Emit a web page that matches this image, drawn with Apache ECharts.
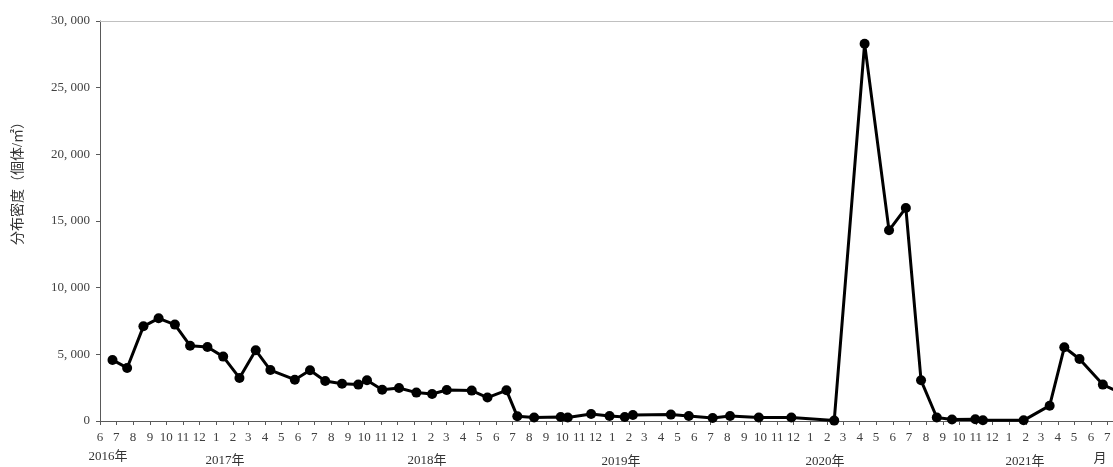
<!DOCTYPE html>
<html>
<head>
<meta charset="utf-8">
<script src="https://cdn.jsdelivr.net/npm/echarts@6/dist/echarts.min.js"></script>
<style>
  html, body { margin: 0; padding: 0; background: #fff; }
  #chart { width: 1113px; height: 467px; }
</style>
</head>
<body>
<div id="chart"></div>
<script>
// Survey dates and population density (individuals per m²)
const surveyDates = [
  '2016-06-24', '2016-07-21', '2016-08-20', '2016-09-17', '2016-10-17', '2016-11-14',
  '2016-12-16', '2017-01-14', '2017-02-13', '2017-03-15', '2017-04-11', '2017-05-26',
  '2017-06-23', '2017-07-21', '2017-08-21', '2017-09-20', '2017-10-06', '2017-11-03',
  '2017-12-04', '2018-01-05', '2018-02-03', '2018-03-02', '2018-04-17', '2018-05-16',
  '2018-06-20', '2018-07-10', '2018-08-10', '2018-09-28', '2018-10-11', '2018-11-23',
  '2018-12-27', '2019-01-24', '2019-02-08', '2019-04-19', '2019-05-22', '2019-07-05',
  '2019-08-06', '2019-09-28', '2019-11-27', '2020-02-14', '2020-04-10', '2020-05-25',
  '2020-06-25', '2020-07-23', '2020-08-21', '2020-09-18', '2020-10-31', '2020-11-14',
  '2021-01-28', '2021-03-17', '2021-04-13', '2021-05-11', '2021-06-23', '2021-07-21'
];
const density = [
  4580, 3980, 7100, 7700, 7230, 5650,
  5550, 4830, 3230, 5300, 3820, 3100,
  3800, 3000, 2800, 2730, 3050, 2350,
  2480, 2130, 2030, 2330, 2280, 1760,
  2300, 350, 260, 300, 260, 520,
  380, 300, 450, 480, 380, 230,
  380, 260, 260, 30, 28300, 14300,
  15980, 3050, 260, 110, 130, 50,
  50, 1150, 5530, 4650, 2730, 2200
];

const yTicks = { min: 0, max: 30000, step: 5000 };
const axisRange = { start: '2016-06-01', end: '2021-08-01' };
const yearLabels = ['2016年', '2017年', '2018年', '2019年', '2020年', '2021年'];
const monthUnit = '月';
const yTitle = '分布密度（個体/㎡）';

const FONT = "'Liberation Serif', 'Noto Sans CJK JP', serif";
const TEXT = '#404040';
const AXIS = '#595959';

const chart = echarts.init(document.getElementById('chart'), null, { renderer: 'canvas' });

const yearX = [108, 225, 427, 621, 825, 1025];
const yearY = [457, 461, 461, 462, 462, 462];

const graphics = yearLabels.map((t, i) => ({
  type: 'text',
  x: yearX[i], y: yearY[i],
  style: { text: t, font: '13px ' + FONT, fill: '#333', align: 'center', verticalAlign: 'middle' },
  silent: true
}));
graphics.push({
  type: 'text', x: 1100, y: 459,
  style: { text: monthUnit, font: '13px ' + FONT, fill: '#333', align: 'center', verticalAlign: 'middle' },
  silent: true
});
graphics.push({
  type: 'text', x: 18, y: 180, rotation: Math.PI / 2,
  style: { text: yTitle, font: '14px ' + FONT, fill: '#333', align: 'center', verticalAlign: 'middle' },
  silent: true
});

chart.setOption({
  animation: false,
  backgroundColor: '#fff',
  grid: { left: 100, top: 21, bottom: 46, right: -11, containLabel: false, outerBoundsMode: 'none' },
  xAxis: {
    type: 'time',
    min: axisRange.start,
    max: axisRange.end,
    minInterval: 28 * 86400000,
    maxInterval: 31 * 86400000,
    splitLine: { show: false },
    axisLine: { show: true, lineStyle: { color: AXIS, width: 1 } },
    axisTick: { show: true, length: 4, lineStyle: { color: AXIS } },
    minorTick: { show: false },
    axisLabel: {
      show: true,
      margin: 10,
      fontFamily: FONT,
      fontSize: 13,
      color: TEXT,
      hideOverlap: false,
      showMinLabel: true,
      formatter: function (v) { return String(new Date(v).getMonth() + 1); }
    }
  },
  yAxis: {
    type: 'value',
    min: yTicks.min,
    max: yTicks.max,
    interval: yTicks.step,
    splitLine: { show: false },
    axisLine: { show: true, lineStyle: { color: AXIS, width: 1 } },
    axisTick: { show: true, length: 4, lineStyle: { color: AXIS } },
    axisLabel: {
      margin: 10,
      fontFamily: FONT,
      fontSize: 13,
      color: TEXT,
      formatter: function (v) { return v.toLocaleString('en-US').replace(/,/g, ', '); }
    }
  },
  graphic: graphics,
  series: [{
    type: 'line',
    data: surveyDates.map((d, i) => [d, density[i]]),
    symbol: 'circle',
    symbolSize: 10,
    showAllSymbol: true,
    itemStyle: { color: '#000' },
    lineStyle: { color: '#000', width: 3 },
    markLine: {
      silent: true,
      symbol: 'none',
      label: { show: false },
      lineStyle: { color: '#c0c0c0', type: 'solid', width: 1 },
      data: [{ yAxis: yTicks.max }]
    }
  }]
});
</script>
</body>
</html>
